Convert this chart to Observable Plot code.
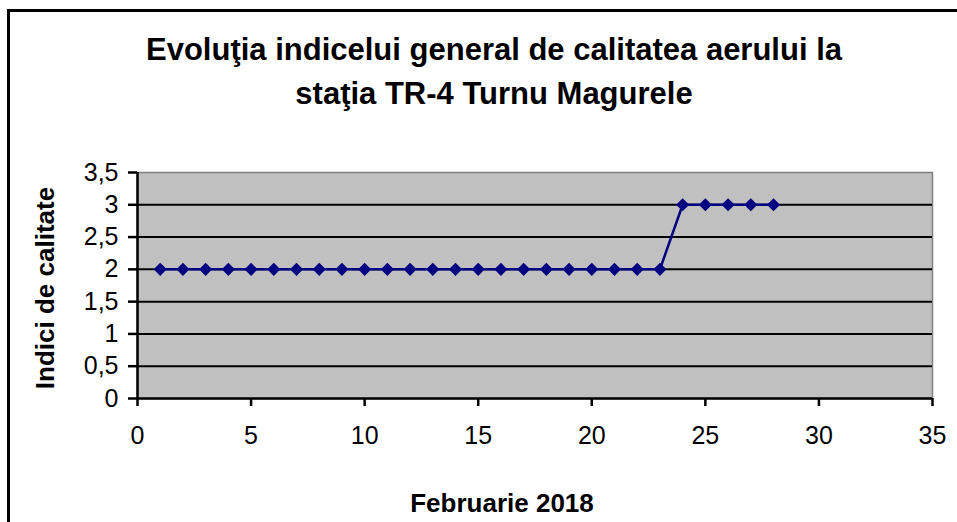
<!DOCTYPE html>
<html>
<head>
<meta charset="utf-8">
<script src="https://cdn.jsdelivr.net/npm/d3@7"></script>
<script src="https://cdn.jsdelivr.net/npm/@observablehq/plot@0.6"></script>
<style>
  body { margin: 0; background: #fff; font-family: "Liberation Sans", Arial, sans-serif; }
  #wrap { position: relative; width: 957px; height: 522px; overflow: hidden; }
  #frame { position: absolute; left: 7px; top: 9px; width: 960px; height: 600px; border-left: 3px solid #000; border-top: 3px solid #000; box-sizing: border-box; }
  .t { position: absolute; font-weight: bold; color: #000; white-space: nowrap; }
  #title { left: 0; width: 988px; top: 28px; text-align: center; font-size: 31px; line-height: 44px; }
  #xlab { left: 0; width: 1004px; top: 488px; text-align: center; font-size: 26px; }
  #ylab { left: 45px; top: 288px; font-size: 26px; transform: translate(-50%, -50%) rotate(-90deg); }
  #chart { position: absolute; left: 0; top: 0; }
</style>
</head>
<body>
<div id="wrap">
  <div id="chart"></div>
  <div id="frame"></div>
  <div class="t" id="title">Evoluţia indicelui general de calitatea aerului la<br>staţia TR-4 Turnu Magurele</div>
  <div class="t" id="ylab">Indici de calitate</div>
  <div class="t" id="xlab">Februarie 2018</div>
</div>
<script>
const days = [1,2,3,4,5,6,7,8,9,10,11,12,13,14,15,16,17,18,19,20,21,22,23,24,25,26,27,28];
const values = [2,2,2,2,2,2,2,2,2,2,2,2,2,2,2,2,2,2,2,2,2,2,2,3,3,3,3,3];
const xTicks = [0,5,10,15,20,25,30,35];
const yTicks = [0,0.5,1,1.5,2,2.5,3,3.5];
const gridY = [0.5,1,1.5,2,2.5,3];

const data = days.map((d, i) => ({day: d, value: values[i]}));
const fmt = v => String(v).replace(".", ",");

const chart = Plot.plot({
  width: 957,
  height: 522,
  marginLeft: 137,
  marginRight: 25,
  marginTop: 172,
  marginBottom: 124,
  style: { fontFamily: "'Liberation Sans', Arial, sans-serif", fontSize: "25px", color: "#000", background: "transparent" },
  x: { domain: [0, 35], ticks: xTicks, label: null },
  y: { domain: [0, 3.5], ticks: yTicks, label: null },
  marks: [
    Plot.frame({ fill: "#c0c0c0", stroke: "#808080", strokeWidth: 1.5 }),
    Plot.ruleY(gridY, { stroke: "#000", strokeWidth: 2 }),
    Plot.ruleY([0], { stroke: "#000", strokeWidth: 2.5 }),
    Plot.ruleX([0], { stroke: "#000", strokeWidth: 2.5 }),
    Plot.axisX({ ticks: xTicks, tickSize: 8, tickPadding: 20, tickFormat: d => String(d), stroke: "#000", strokeWidth: 2.5, fontSize: 25, label: null }),
    Plot.axisY({ ticks: yTicks, tickSize: 9, tickPadding: 10, tickFormat: fmt, stroke: "#000", strokeWidth: 2.5, fontSize: 25, label: null }),
    Plot.line(data, { x: "day", y: "value", stroke: "#000080", strokeWidth: 2.5 }),
    Plot.dot(data, { x: "day", y: "value", symbol: "diamond2", r: 5.9, fill: "#000080", stroke: "none" })
  ]
});
document.getElementById("chart").appendChild(chart);
</script>
</body>
</html>
